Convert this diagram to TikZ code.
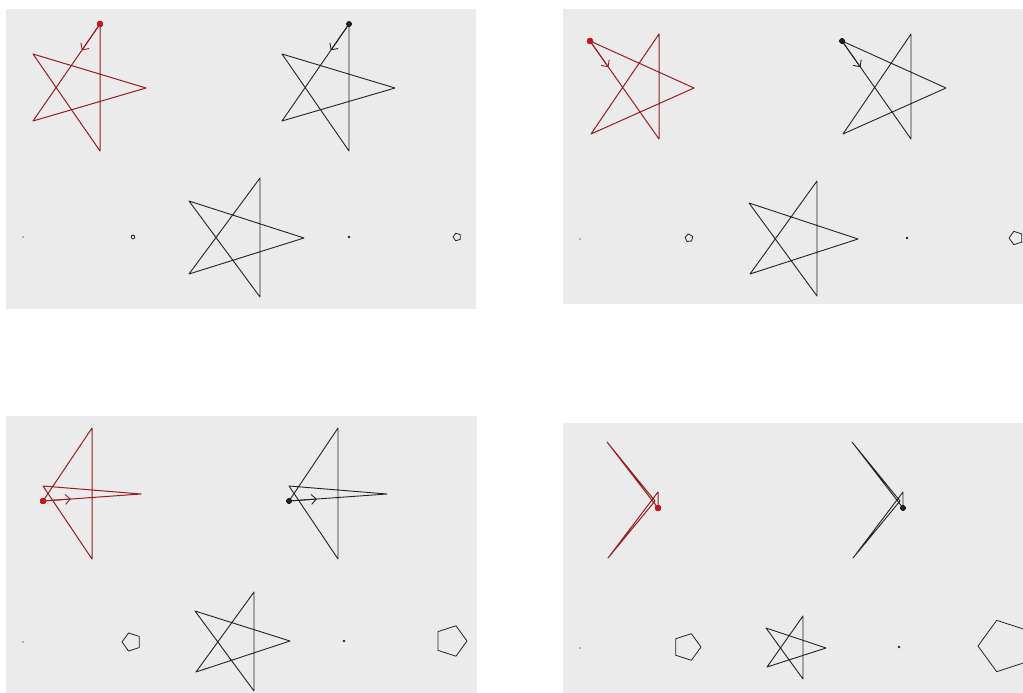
\documentclass[tikz,border=0pt]{standalone}
\usepackage{xcolor}
\usepackage{tikz}
\usetikzlibrary{arrows.meta,shapes.geometric,calc}

\definecolor{panelGray}{RGB}{235,235,235}
\definecolor{starRed}{RGB}{150,30,30}
\definecolor{dotRed}{RGB}{205,20,20}
\definecolor{starInk}{RGB}{35,35,35}
\definecolor{tinyGray}{RGB}{150,150,150}

\begin{document}
\begin{tikzpicture}[
  x=1pt, y=-1pt, line join=round,
  panel/.style={fill=panelGray},
  redStar/.style={draw=starRed, line width=1pt},
  inkStar/.style={draw=starInk, line width=0.9pt},
  arr/.style={-{Straight Barb[length=5pt, width=10pt]}, line width=0.9pt},
  redDot/.style={fill=dotRed, draw=starRed, line width=0.5pt},
  inkDot/.style={fill=starInk, draw=black, line width=0.5pt},
  pentLine/.style={draw=starInk, line width=0.8pt},
  tiny/.style={regular polygon, regular polygon sides=5, draw=tinyGray,
               inner sep=0pt, minimum size=1.6pt, line width=0.4pt},
  mid/.style={circle, fill=starInk, inner sep=0pt, minimum size=2.8pt},
]
\useasboundingbox (0,0) rectangle (1023,693);
\fill[white] (0,0) rectangle (1023,693);

% panel 1 (top left)
\fill[panel] (6,9) rectangle (476,309);
\draw[redStar] (100,24) coordinate (s1r) -- (33,121) coordinate (n1r)
  -- (146,88) -- (33,54) -- (100,151) -- cycle;
\draw[inkStar] (349,24) coordinate (s1k) -- (282,121) coordinate (n1k)
  -- (395,88) -- (282,54) -- (349,151) -- cycle;
\draw[inkStar] (260,178) -- (189,274) -- (304,238) -- (189,201) -- (260,297) -- cycle;
\draw[arr, starRed] (s1r) -- ($(s1r)!32pt!(n1r)$);
\draw[arr, starInk] (s1k) -- ($(s1k)!32pt!(n1k)$);
\filldraw[redDot] (s1r) circle (3);
\filldraw[inkDot] (s1k) circle (2.6);
\node[tiny] (t1) at (23,237) {};
\node[mid] (m1) at (349,237) {};

% panel 2 (top right)
\fill[panel] (563,9) rectangle (1023,304);
\draw[redStar] (590,41) coordinate (s2r) -- (659,139) coordinate (n2r)
  -- (659,34) -- (591,134) -- (694,88) -- cycle;
\draw[inkStar] (842,41) coordinate (s2k) -- (911,139) coordinate (n2k)
  -- (911,34) -- (843,134) -- (946,88) -- cycle;
\draw[inkStar] (817,181) -- (750,274) -- (858,239) -- (749,203) -- (817,296) -- cycle;
\draw[arr, starRed] (s2r) -- ($(s2r)!32pt!(n2r)$);
\draw[arr, starInk] (s2k) -- ($(s2k)!32pt!(n2k)$);
\filldraw[redDot] (s2r) circle (3);
\filldraw[inkDot] (s2k) circle (2.6);
\node[tiny] (t2) at (580,239) {};
\node[mid] (m2) at (907,238) {};

% panel 3 (bottom left)
\fill[panel] (6,416) rectangle (477,693);
\draw[redStar] (43,501) coordinate (s3r) -- (141,494) coordinate (n3r)
  -- (43,486) -- (92,559) -- (92,428) -- cycle;
\draw[inkStar] (289,501) coordinate (s3k) -- (387,494) coordinate (n3k)
  -- (289,486) -- (338,559) -- (338,428) -- cycle;
\draw[inkStar] (254,592) -- (196,672) -- (290,641) -- (195,611) -- (254,691) -- cycle;
\draw[arr, starRed] (s3r) -- ($(s3r)!28pt!(n3r)$);
\draw[arr, starInk] (s3k) -- ($(s3k)!28pt!(n3k)$);
\filldraw[redDot] (s3r) circle (3);
\filldraw[inkDot] (s3k) circle (2.6);
\node[tiny] (t3) at (23,642) {};
\node[mid] (m3) at (344,641) {};

% panel 4 (bottom right)
\fill[panel] (563,423) rectangle (1023,693);
\draw[redStar] (658,508) coordinate (s4r) -- (607,442)
  -- (655,501) -- (608,558) -- (658,492) -- cycle;
\draw[inkStar] (903,508) coordinate (s4k) -- (852,442)
  -- (900,501) -- (853,558) -- (903,492) -- cycle;
\draw[inkStar] (803,616) -- (767,667) -- (826,648) -- (766,628) -- (803,679) -- cycle;
\filldraw[redDot] (s4r) circle (3);
\filldraw[inkDot] (s4k) circle (2.6);
\node[tiny] (t4) at (580,648) {};
\node[mid] (m4) at (899,647) {};

% pentagons: centre x / centre y / radius / first vertex angle
\foreach \cx/\cy/\r/\o in {133/237/2/90, 457/237/4/180, 689/238/4/120,
    1016/238/7/180, 131.5/642/9.5/180, 451/641/16/0, 687/647/14/0, 1005/646/27/180}
  \draw[pentLine] ($(\cx,\cy)+(\o:\r)$)
    \foreach \k in {1,...,4} { -- ($(\cx,\cy)+(\o+72*\k:\r)$) } -- cycle;
\end{tikzpicture}
\end{document}
